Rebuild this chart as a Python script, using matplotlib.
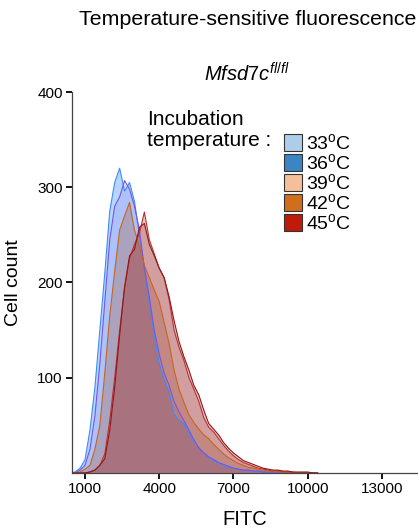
import matplotlib
matplotlib.use("Agg")
import matplotlib.pyplot as plt
from matplotlib.patches import Patch

plt.rcParams['font.family'] = ['Liberation Sans', 'DejaVu Sans']
plt.rcParams['mathtext.fontset'] = 'custom'
plt.rcParams['mathtext.rm'] = 'Liberation Sans'
plt.rcParams['mathtext.it'] = 'Liberation Sans:italic'

# FITC bin positions
fitc = [400, 600, 800, 1000, 1200, 1400, 1600, 1800, 2000, 2200,
        2400, 2600, 2800, 3000, 3200, 3400, 3600, 3800, 4000, 4200,
        4400, 4600, 4800, 5000, 5200, 5400, 5600, 5800, 6000, 6200,
        6400, 6600, 6800, 7000, 7200, 7400, 7600, 7800, 8000, 8200,
        8400, 8600, 8800, 9000, 9200, 9400, 9600, 9800, 10000, 10200, 10400]

# cell counts per incubation temperature
counts_33 = [0, 1, 5, 14, 45, 90, 150, 210, 275, 305,
             320, 296, 305, 285, 250, 215, 178, 145, 115, 98,
             85, 62, 55, 52, 42, 33, 27, 21, 16, 13,
             10, 8, 6, 5, 4, 3, 3, 2, 2, 1,
             1, 1, 1, 0, 0, 0, 0, 0, 0, 0, 0]
counts_36 = [0, 0, 3, 8, 25, 60, 115, 180, 245, 280,
             290, 307, 298, 280, 255, 215, 185, 150, 125, 105,
             92, 75, 64, 55, 45, 35, 26, 21, 17, 14,
             11, 9, 7, 5, 4, 3, 3, 2, 2, 1,
             1, 1, 1, 1, 0, 0, 0, 0, 0, 0, 0]
counts_39 = [0, 0, 0, 0, 1, 3, 8, 20, 55, 100,
             150, 195, 225, 240, 252, 274, 245, 230, 215, 205,
             182, 150, 132, 118, 100, 88, 75, 58, 48, 43,
             36, 29, 23, 18, 14, 11, 9, 7, 5, 4,
             3, 2, 2, 1, 1, 0, 0, 0, 0, 0, 0]
counts_42 = [0, 0, 1, 4, 8, 25, 50, 105, 165, 212,
             255, 270, 284, 255, 238, 218, 205, 192, 180, 158,
             136, 108, 88, 74, 61, 53, 46, 40, 36, 30,
             25, 20, 16, 13, 10, 8, 6, 5, 4, 3,
             2, 2, 1, 1, 1, 1, 0, 0, 0, 0, 0]
counts_45 = [0, 0, 0, 0, 1, 3, 8, 15, 45, 90,
             145, 195, 228, 235, 258, 262, 240, 228, 215, 205,
             185, 160, 138, 122, 108, 92, 82, 66, 52, 46,
             40, 32, 26, 21, 17, 13, 11, 9, 7, 5,
             4, 3, 3, 2, 2, 1, 1, 1, 1, 0, 0]

labels = [r"33$^{\mathrm{o}}$C", r"36$^{\mathrm{o}}$C", r"39$^{\mathrm{o}}$C",
          r"42$^{\mathrm{o}}$C", r"45$^{\mathrm{o}}$C"]
series = [counts_33, counts_36, counts_39, counts_42, counts_45]
key_colors = ["#aecde9", "#3a86c4", "#f5bf99", "#d06e1b", "#c01a08"]
fill_colors = ["#1676ff", "#9197e8", "#be4343", "#ab5a35", "#984848"]
edge_colors = ["#3a8cff", "#7a55e0", "#c03030", "#c86420", "#901818"]

fig = plt.figure(figsize=(4.18, 5.32), dpi=100)
ax = fig.add_axes([0.172, 0.111, 0.828, 0.716])

for counts, fc, ec in zip(series, fill_colors, edge_colors):
    ax.fill_between(fitc, counts, 0, facecolor=fc, alpha=0.3, linewidth=0)
    ax.plot(fitc, counts, color=ec, lw=0.8)

ax.set_xlim(470, 14460)
ax.set_ylim(0, 400)
ax.set_xticks([1000, 4000, 7000, 10000, 13000])
ax.set_yticks([100, 200, 300, 400])
ax.tick_params(length=4, width=1.3, labelsize=11, color='black', pad=2.5)
for s in ['top', 'right']:
    ax.spines[s].set_visible(False)
for s in ['left', 'bottom']:
    ax.spines[s].set_color('#444444')
    ax.spines[s].set_linewidth(0.9)

ax.set_xlabel("FITC", fontsize=14.5, labelpad=10)
ax.set_ylabel("Cell count", fontsize=14, labelpad=11)

fig.text(0.593, 0.964, "Temperature-sensitive fluorescence", fontsize=15.4,
         ha='center', va='center')
fig.text(0.59, 0.861, r"$\mathit{Mfsd7c}^{\mathit{fl/fl}}$", fontsize=14.5,
         ha='center', va='center')

fig.text(0.352, 0.756, "Incubation\ntemperature :", fontsize=15,
         ha='left', va='center', linespacing=1.1)

handles = [Patch(facecolor=c, edgecolor='#333333', lw=0.8) for c in key_colors]
fig.legend(handles, labels, loc='upper left', bbox_to_anchor=(0.679, 0.75),
           frameon=False, fontsize=14, handlelength=0.95, handleheight=1.0,
           labelspacing=0.0, handletextpad=0.2, borderpad=0, borderaxespad=0)

fig.savefig("out.png", dpi=100)
